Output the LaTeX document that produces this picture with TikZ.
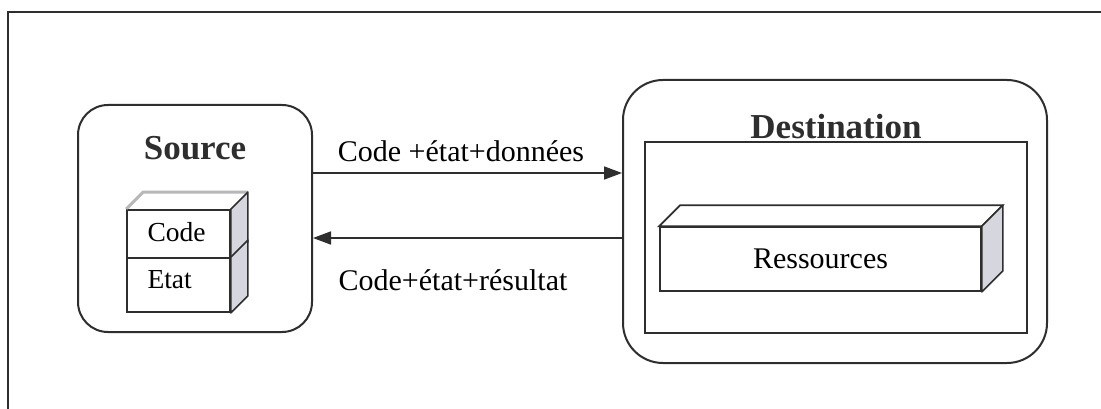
\documentclass[tikz,border=0pt]{standalone}
\usepackage{fontspec}
\setmainfont{Liberation Serif}
\usetikzlibrary{arrows.meta,calc}
\definecolor{ink}{HTML}{2E2E2E}
\definecolor{sideface}{HTML}{D6D6DE}
\tikzset{
  frame/.style={draw=ink, line width=1.5pt},
  hostbox/.style={draw=ink, line width=2pt, rounded corners=#1, inner sep=0pt},
  plainbox/.style={draw=ink, line width=1.8pt, inner sep=0pt},
  face/.style={draw=ink, line width=1.7pt, fill=white, inner sep=0pt},
  side/.style={draw=ink, line width=1.7pt, fill=sideface, line join=round},
  title/.style={font=\fontsize{35}{40}\selectfont\bfseries, text=ink},
  label/.style={font=\fontsize{30}{34}\selectfont, text=black},
  small/.style={font=\fontsize{27.5}{30}\selectfont, text=black},
  arr/.style={draw=ink, line width=1.7pt, -{Triangle[length=18pt,width=13pt]}},
}
\begin{document}
\begin{tikzpicture}[x=1pt, y=-1pt]
\useasboundingbox (0,0) rectangle (1101,409);
\fill[white] (0,0) rectangle (1101,409);

% page frame, visible on its left and top sides
\draw[frame] (8,409) -- (8,12) -- (1101,12);

% source host
\node[hostbox=30pt, minimum width=234pt, minimum height=227pt] (src) at (195,218.5) {};
\node[title] (srcT) at (195,148) {Source};

% code / state stack with depth
\def\dep{17}
\node[face, minimum width=103pt, minimum height=48pt] (code) at (178.5,234) {};
\node[face, minimum width=103pt, minimum height=54pt] (etat) at (178.5,285) {};
\draw[draw=gray!80, line width=3pt, opacity=0.7]
  (code.north west) -- ++(\dep,-\dep) -- ($(code.north east)+(\dep,-\dep)$);
\draw[side] (code.north east) -- ++(\dep,-\dep) -- ($(code.south east)+(\dep,-\dep)$) -- (code.south east) -- cycle;
\draw[side] (etat.north east) -- ++(\dep,-\dep) -- ($(etat.south east)+(\dep,-\dep)$) -- (etat.south east) -- cycle;
\node[small, anchor=west] (codeT) at (144,232) {Code};
\node[small, anchor=west] (etatT) at (144,280) {Etat};

% destination host
\node[hostbox=40pt, minimum width=424pt, minimum height=283pt] (dst) at (835,221.5) {};
\node[title] (dstT) at (836,127) {Destination};
\node[plainbox, minimum width=382pt, minimum height=191pt] (env) at (836,237.5) {};

% resources block
\def\rdep{21}
\node[face, minimum width=321pt, minimum height=64pt] (res) at (820.5,259) {};
\draw[face] (res.north west) -- ++(\rdep,-\rdep) -- ($(res.north east)+(\rdep,-\rdep)$) -- (res.north east) -- cycle;
\draw[side] (res.north east) -- ++(\rdep,-\rdep) -- ($(res.south east)+(\rdep,-\rdep)$) -- (res.south east) -- cycle;
\node[label] (resT) at (res.center) {Ressources};

% migration arrows
\coordinate (upY) at (0,173);
\coordinate (dnY) at (0,238);
\draw[arr] (src.east |- upY) -- (dst.west |- upY);
\draw[arr] (dst.west |- dnY) -- (src.east |- dnY);
\node[label] (lblGo) at (461,151) {Code +état+données};
\node[label] (lblBack) at (453,280) {Code+état+résultat};
\end{tikzpicture}
\end{document}
